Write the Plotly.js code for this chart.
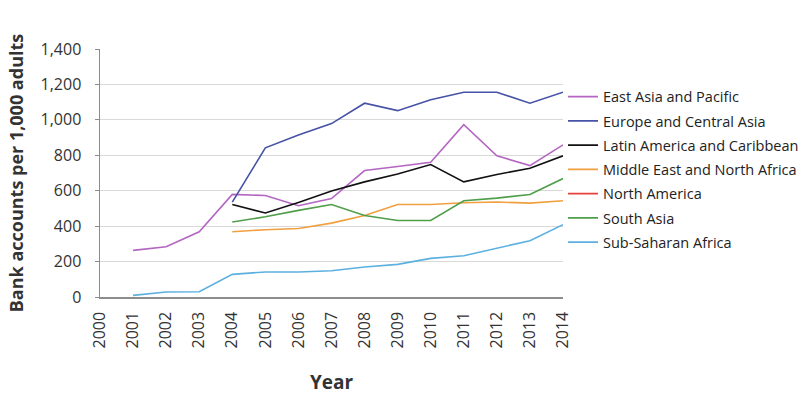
<!DOCTYPE html>
<html>
<head>
<meta charset="utf-8">
<script src="https://cdn.plot.ly/plotly-3.0.1.min.js"></script>
<style>
  html, body { margin: 0; padding: 0; background: #fff; }
  #chart { width: 809px; height: 413px; }
</style>
</head>
<body>
<div id="chart"></div>
<script>
// Годы (категории оси X)
const years = ['2000', '2001', '2002', '2003', '2004', '2005', '2006', '2007',
               '2008', '2009', '2010', '2011', '2012', '2013', '2014'];

// Счета на 1000 взрослых, по регионам (null = нет данных)
const eastAsiaPacific = [null, 263, 284, 368, 579, 573, 515, 556, 714, 737, 761, 973, 797, 742, 859];
const europeCentralAsia = [null, null, null, null, 536, 842, 915, 979, 1094, 1052, 1114, 1156, 1156, 1094, 1156];
const latinAmericaCaribbean = [null, null, null, null, 522, 474, 534, 598, 650, 694, 748, 650, 692, 727, 797];
const middleEastNorthAfrica = [null, null, null, null, 368, 380, 387, 417, 460, 522, 522, 532, 536, 530, 543];
const northAmerica = [null, null, null, null, null, null, null, null, null, null, null, null, null, null, null];
const southAsia = [null, null, null, null, 423, 453, 489, 522, 460, 432, 432, 543, 558, 579, 669];
const subSaharanAfrica = [null, 9, 28, 30, 128, 141, 141, 148, 169, 184, 218, 233, 276, 318, 408];

const regionNames = ['East Asia and Pacific', 'Europe and Central Asia', 'Latin America and Caribbean',
                     'Middle East and North Africa', 'North America', 'South Asia', 'Sub-Saharan Africa'];
const regionValues = [eastAsiaPacific, europeCentralAsia, latinAmericaCaribbean,
                      middleEastNorthAfrica, northAmerica, southAsia, subSaharanAfrica];
const regionColors = ['#b466c2', '#4652a6', '#111111', '#f0a040', '#e8413c', '#4f9e4a', '#5cb0e0'];

const yTicks = [0, 200, 400, 600, 800, 1000, 1200, 1400];

const traces = regionNames.map(function(name, i) {
    return {
        x: years,
        y: regionValues[i],
        name: name,
        legendgroup: 'g' + i,
        type: 'scatter',
        mode: 'lines',
        connectgaps: false,
        line: { color: regionColors[i], width: 1.6 }
    };
});

const layout = {
    width: 809,
    height: 413,
    paper_bgcolor: '#fff',
    plot_bgcolor: '#fff',
    font: { family: '"Open Sans", sans-serif', color: '#333' },
    margin: { t: 49, r: 246, b: 116, l: 100, autoexpand: false },
    showlegend: true,
    legend: {
        x: 1.0, xanchor: 'left',
        y: 0.872, yanchor: 'top',
        font: { size: 14.5, color: '#222' },
        itemwidth: 30,
        tracegroupgap: 2.4,
        bgcolor: 'rgba(0,0,0,0)'
    },
    xaxis: {
        type: 'category',
        tickvals: years,
        ticktext: years,
        tickangle: -90,
        tickfont: { size: 16, color: '#333' },
        ticks: '',
        ticklabelstandoff: 7,
        showgrid: false,
        showline: true,
        linecolor: '#8c8c8c',
        linewidth: 1.5,
        title: { text: '<b>Year</b>', font: { size: 19, color: '#333' }, standoff: 28 },
        fixedrange: true
    },
    yaxis: {
        range: [0, 1400],
        tickvals: yTicks,
        tickformat: ',d',
        tickfont: { size: 16, color: '#333' },
        ticks: 'outside',
        ticklen: 4,
        tickcolor: '#8c8c8c',
        ticklabelstandoff: 10,
        showgrid: true,
        gridcolor: '#d9d9d9',
        gridwidth: 1,
        zeroline: false,
        showline: true,
        linecolor: '#8c8c8c',
        linewidth: 1.5,
        title: { text: '<b>Bank accounts per 1,000 adults</b>', font: { size: 18, color: '#333' }, standoff: 12 },
        fixedrange: true
    }
};

Plotly.newPlot('chart', traces, layout, { displayModeBar: false, staticPlot: true });
</script>
</body>
</html>
